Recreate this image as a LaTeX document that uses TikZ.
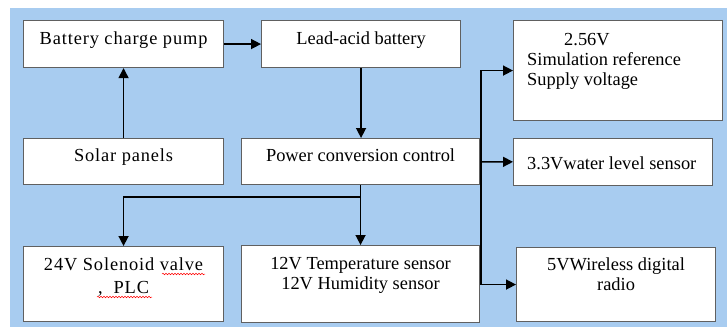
\documentclass[tikz,border=0pt]{standalone}
\usepackage{fontspec}
\setmainfont{Liberation Serif}
\newfontfamily\spacedfont[LetterSpace=4.7]{Liberation Serif}
\usetikzlibrary{
    arrows.meta,
    positioning,
    decorations.pathmorphing,
}
\definecolor{panelblue}{RGB}{168,204,240}
\definecolor{boxgray}{RGB}{96,96,96}

\begin{document}
\begin{tikzpicture}[
        x=1pt, y=-1pt,
        block/.style={draw=boxgray, line width=1.1pt, fill=white,
            anchor=north west, inner sep=0pt},
        blocktext/.style={inner sep=0pt, align=center,
            font=\fontsize{18.4}{20}\selectfont},
        spaced/.style={font=\spacedfont\fontsize{18.4}{20}\selectfont},
        flow/.style={draw, ->, >={Triangle[length=10pt, width=10pt]},
            line width=1.5pt},
        squiggle/.style={draw=red, line width=0.5pt, decorate,
            decoration={snake, amplitude=0.8pt, segment length=3pt}},
    ]
        \useasboundingbox (0,0) rectangle (727,327);
        \fill[white] (0,0) rectangle (727,327);
        \fill[panelblue] (10,8) rectangle (727,327);

        \node[block, minimum width=200pt, minimum height=47pt] (pump) at (23,20) {};
        \node[block, minimum width=199pt, minimum height=47pt] (battery) at (261,20) {};
        \node[block, minimum width=200pt, minimum height=46pt] (solar) at (23,138) {};
        \node[block, minimum width=238pt, minimum height=46pt] (power) at (241,138) {};
        \node[block, minimum width=200pt, minimum height=75pt] (valve) at (23,246) {};
        \node[block, minimum width=238pt, minimum height=77pt] (sensors) at (241,245) {};
        \node[block, minimum width=209pt, minimum height=100pt] (ref) at (513,20) {};
        \node[block, minimum width=199pt, minimum height=47pt] (water) at (513,138) {};
        \node[block, minimum width=199pt, minimum height=74pt] (radio) at (516,247) {};

        \node[blocktext, spaced, below=11.3pt of pump.north] (pumptext) {Battery charge pump};
        \node[blocktext, below=11.3pt of battery.north] (batterytext) {Lead-acid battery};
        \node[blocktext, spaced, below=10.5pt of solar.north] (solartext) {Solar panels};
        \node[blocktext, below=11pt of power.north] (powertext) {Power conversion control};
        \node[blocktext, spaced, below=12pt of valve.north] (valvetext) {24V Solenoid valve\\[2.6pt],\ \ PLC};
        \node[blocktext, below=12pt of sensors.north] (sensorstext) {12V Temperature sensor\\12V Humidity sensor};
        \node[blocktext, align=left, below right=13pt and 14pt of ref.north west] (reftext)
            {\hspace*{37pt}2.56V\\Simulation reference\\Supply voltage};
        \node[blocktext, below right=19pt and 14pt of water.north west] (watertext) {3.3Vwater level sensor};
        \node[blocktext, below=10.7pt of radio.north] (radiotext) {5VWireless digital\\radio};

        \draw[squiggle] (162,274) -- (205,274);
        \draw[squiggle] (97,297) -- (152,297);

        \draw[flow] (pump) -- (battery);
        \draw[flow] (solar) -- (pump);
        \draw[flow] (battery.south) -- (battery.south |- power.north);
        \draw[flow] (power) -- (sensors);
        \draw[flow] (power.south) -- ++(0,12) -| (valve.north);
        \draw[flow] (power) -- (water);
        \draw[flow] ([xshift=1pt]power.east) |- (ref.west);
        \draw[flow] ([xshift=1pt]power.east) |- (radio.west);
    \end{tikzpicture}
\end{document}
